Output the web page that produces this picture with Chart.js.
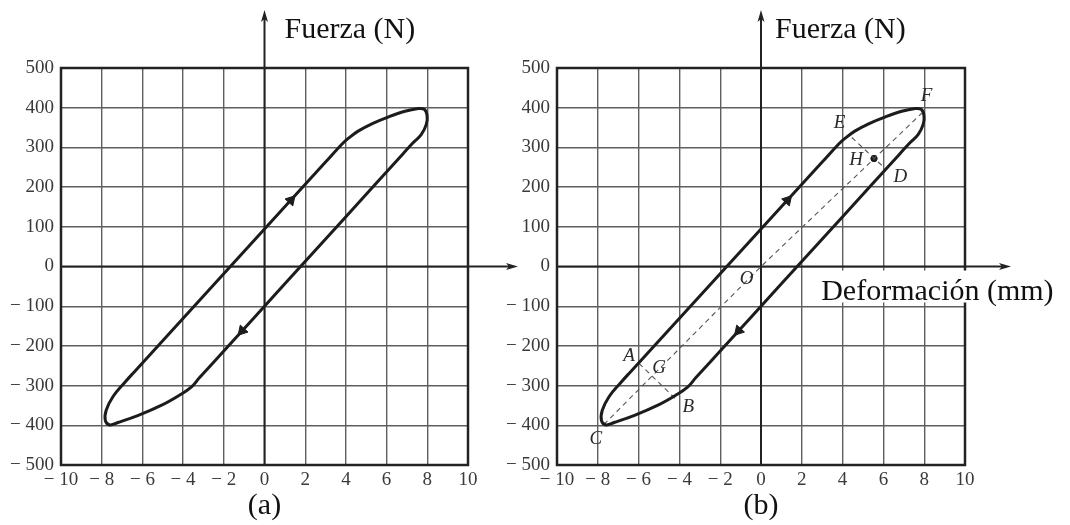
<!DOCTYPE html>
<html>
<head>
<meta charset="utf-8">
<script src="https://cdn.jsdelivr.net/npm/chart.js@4.4.1/dist/chart.umd.min.js"></script>
<style>
  html, body { margin: 0; padding: 0; background: #fff; }
  body { width: 1070px; height: 525px; position: relative; overflow: hidden; }
  canvas { position: absolute; top: 0; }
  #chartA { left: 0; }
  #chartB { left: 496px; }
</style>
</head>
<body>
<canvas id="chartA" width="530" height="525"></canvas>
<canvas id="chartB" width="574" height="525"></canvas>
<script>
// axis ticks
const xTicks = [-10, -8, -6, -4, -2, 0, 2, 4, 6, 8, 10];
const yTicks = [-500, -400, -300, -200, -100, 0, 100, 200, 300, 400, 500];

// hysteresis loop (deformation mm, force N)
const loopX = [1.0, -2.0, -3.2, -3.6, -4.2, -5.0, -6.2, -7.2, -7.6, -7.82, -7.78, -7.45, -6.9, -6.4,
               3.0, 3.8, 4.1, 4.6, 5.3, 6.1, 6.9, 7.5, 7.85, 7.99, 7.95, 7.7, 7.3, 6.8, 4.0, 1.0];
const loopY = [-43.6, -212.8, -280.5, -304, -325, -348, -375, -393, -399, -388, -362, -328, -294, -265.5,
               263, 308, 322, 341, 360, 377, 391, 397.5, 396, 380, 358, 332, 311.7, 283.5, 125.6, -43.6];

// direction arrows on the loop
const arrowX = [1.3, -1.1];
const arrowY = [167, -162];
const arrowRot = [42.3, 222.3];

// chart (b) construction lines
const diagX = [-7.7, 0, 7.88];
const diagY = [-398, 0, 386];
const chordABX = [-5.98, -4.22];
const chordABY = [-244, -332];
const chordEDX = [4.45, 6.08];
const chordEDY = [325, 247];
const pointHX = [5.54];
const pointHY = [272];

// letter labels in chart (b)
const letterText = ['A', 'B', 'C', 'D', 'E', 'F', 'G', 'H', 'O'];
const letterX = [-6.47, -3.56, -8.10, 6.83, 3.85, 8.12, -4.99, 4.66, -0.7];
const letterY = [-225, -355, -435, 226, 361, 429, -256, 268, -32];

const SERIF = '"Liberation Serif", "DejaVu Serif", serif';
const INK = '#1c1c1c';

const pts = (xs, ys) => xs.map((x, i) => ({ x, y: ys[i] }));
const fmt = v => v < 0 ? '\u2212 ' + Math.abs(v) : String(v);

function arrowHead(ctx, x, y, dir) {
  ctx.beginPath();
  if (dir === 'up') {
    ctx.moveTo(x, y);
    ctx.lineTo(x - 3.5, y + 12);
    ctx.lineTo(x, y + 9);
    ctx.lineTo(x + 3.5, y + 12);
  } else {
    ctx.moveTo(x, y);
    ctx.lineTo(x - 12, y - 3.5);
    ctx.lineTo(x - 9, y);
    ctx.lineTo(x - 12, y + 3.5);
  }
  ctx.closePath();
  ctx.fill();
}

const framePlugin = {
  id: 'frame',
  beforeDatasetsDraw(chart, args, opts) {
    const { ctx, chartArea: a, scales: { x, y } } = chart;
    const x0 = x.getPixelForValue(0), y0 = y.getPixelForValue(0);
    ctx.save();
    ctx.strokeStyle = '#222';
    ctx.lineWidth = 2.5;
    ctx.strokeRect(a.left, a.top, a.right - a.left, a.bottom - a.top);
    // axes with arrows
    ctx.lineWidth = 2;
    ctx.fillStyle = '#222';
    ctx.beginPath();
    ctx.moveTo(x0, a.bottom);
    ctx.lineTo(x0, 16);
    ctx.stroke();
    arrowHead(ctx, x0, 10, 'up');
    const tip = a.right + opts.axisOver;
    ctx.beginPath();
    ctx.moveTo(a.left, y0);
    ctx.lineTo(tip - 5, y0);
    ctx.stroke();
    arrowHead(ctx, tip, y0, 'right');
    ctx.restore();
  },
  afterDatasetsDraw(chart, args, opts) {
    const { ctx, scales: { x, y } } = chart;
    const x0 = x.getPixelForValue(0), y0 = y.getPixelForValue(0);
    ctx.save();
    ctx.fillStyle = '#111';
    ctx.font = '30px ' + SERIF;
    ctx.textAlign = 'left';
    ctx.textBaseline = 'alphabetic';
    ctx.fillText('Fuerza (N)', x0 + opts.titleOffset, 38);
    ctx.textAlign = 'center';
    ctx.font = '30px ' + SERIF;
    ctx.fillText(opts.caption, x0, 514);
    if (opts.letters) {
      ctx.font = 'italic 19px ' + SERIF;
      ctx.fillStyle = '#2a2a2a';
      ctx.textBaseline = 'middle';
      letterText.forEach((t, i) => {
        ctx.fillText(t, x.getPixelForValue(letterX[i]), y.getPixelForValue(letterY[i]));
      });
      // x-axis title with white backing over the grid
      const tx = x.getPixelForValue(3) - 1;
      ctx.font = '30px ' + SERIF;
      const w = ctx.measureText('Deformación (mm)').width;
      ctx.fillStyle = '#fff';
      ctx.fillRect(tx - 3, y0 + 4, w + 6, 32);
      ctx.fillStyle = '#111';
      ctx.textAlign = 'left';
      ctx.textBaseline = 'alphabetic';
      ctx.fillText('Deformación (mm)', tx, y0 + 33);
    }
    ctx.restore();
  }
};

function makeChart(id, rightPad, extra, frameOpts) {
  const datasets = [
    {
      data: pts(loopX, loopY),
      showLine: true,
      borderColor: INK,
      borderWidth: 3,
      tension: 0.4,
      pointRadius: 0,
      fill: false
    },
    {
      data: pts(arrowX, arrowY),
      showLine: false,
      pointStyle: 'triangle',
      rotation: arrowRot,
      pointRadius: 6,
      backgroundColor: INK,
      borderColor: INK,
      borderWidth: 1
    }
  ];
  if (extra) {
    const dashed = (xs, ys) => ({
      data: pts(xs, ys),
      showLine: true,
      borderColor: '#555',
      borderWidth: 1.1,
      borderDash: [5, 4],
      pointRadius: 0,
      tension: 0
    });
    datasets.push(dashed(diagX, diagY), dashed(chordABX, chordABY), dashed(chordEDX, chordEDY));
    datasets.push({
      data: pts(pointHX, pointHY),
      showLine: false,
      pointRadius: 3.2,
      backgroundColor: INK,
      borderColor: INK
    });
  }
  return new Chart(document.getElementById(id), {
    type: 'scatter',
    data: { datasets },
    options: {
      responsive: false,
      animation: false,
      layout: { padding: { left: 0, top: 68, right: rightPad, bottom: 0 } },
      plugins: {
        legend: { display: false },
        tooltip: { enabled: false },
        frame: frameOpts
      },
      scales: {
        x: {
          type: 'linear',
          min: -10,
          max: 10,
          afterBuildTicks: s => { s.ticks = xTicks.map(v => ({ value: v })); },
          afterFit: s => { s.height = 60; },
          grid: { color: '#5f5f5f', lineWidth: 1.4, drawTicks: false, tickLength: 0 },
          border: { display: false },
          ticks: {
            padding: 4,
            color: '#3a3a3a',
            font: { family: SERIF, size: 19 },
            callback: v => fmt(v)
          }
        },
        y: {
          type: 'linear',
          min: -500,
          max: 500,
          afterBuildTicks: s => { s.ticks = yTicks.map(v => ({ value: v })); },
          afterFit: s => { s.width = 61; },
          grid: { color: '#5f5f5f', lineWidth: 1.4, drawTicks: false, tickLength: 0 },
          border: { display: false },
          ticks: {
            padding: 7,
            color: '#3a3a3a',
            font: { family: SERIF, size: 19 },
            callback: v => fmt(v)
          }
        }
      }
    },
    plugins: [framePlugin]
  });
}

makeChart('chartA', 62, false, { axisOver: 50, titleOffset: 20, caption: '(a)', letters: false });
makeChart('chartB', 105, true, { axisOver: 46, titleOffset: 14, caption: '(b)', letters: true });
</script>
</body>
</html>
